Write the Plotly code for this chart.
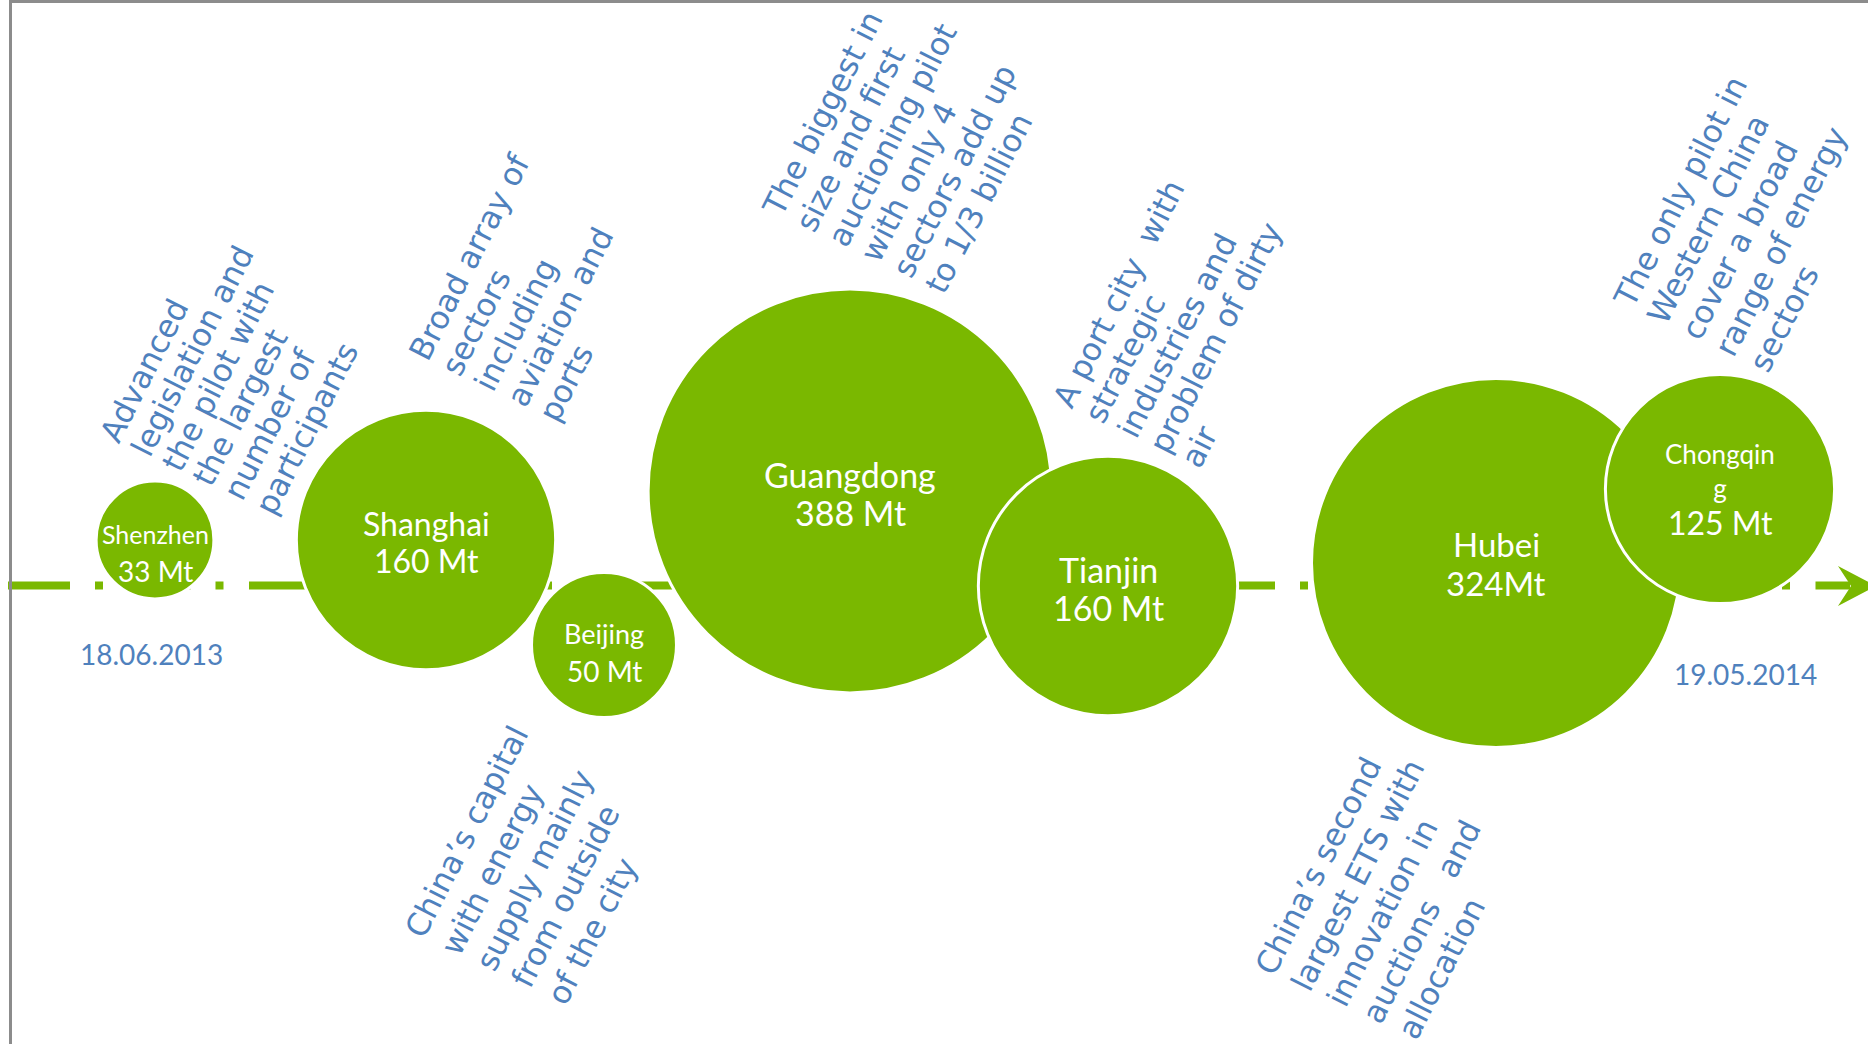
import math
import plotly.graph_objects as go

# ---- data -------------------------------------------------------------
# Chinese pilot emissions trading schemes, in order of launch
pilots = ["Shenzhen", "Shanghai", "Beijing", "Guangdong", "Tianjin", "Hubei", "Chongqing"]
cap_mt = [33, 160, 50, 388, 160, 324, 125]            # annual cap, Mt CO2
name_labels = ["Shenzhen", "Shanghai", "Beijing", "Guangdong", "Tianjin", "Hubei", "Chongqin<br>g"]
unit_gap = [" ", " ", " ", " ", " ", "", " "]
timeline_dates = ["18.06.2013", "19.05.2014"]

note_shenzhen = ["Advanced", "legislation and", "the pilot with", "the largest",
                 "number of", "participants"]
note_shanghai = ["Broad array of", "sectors", "including", "aviation and", "ports"]
note_beijing = ["China\u2019s capital", "with energy", "supply mainly", "from outside",
                "of the city"]
note_guangdong = ["The biggest in", "size and first", "auctioning pilot", "with only 4",
                  "sectors add up", "to 1/3 billion"]
note_tianjin = ["A port city  with", "strategic", "industries and", "problem of dirty", "air"]
note_hubei = ["China\u2019s second", "largest ETS with", "innovation in", "auctions   and",
              "allocation"]
note_chongqing = ["The only pilot in", "Western China", "cover a broad", "range of energy",
                  "sectors"]

# ---- layout / styling -------------------------------------------------
W, H = 1868, 1044
GREEN = "#7ab800"
BLUE = "#4f81bd"
GREY = "#8c8c8c"
AXIS_Y = 585.5

bubble_x = [155, 426, 604, 850, 1108, 1496, 1720]
bubble_y = [540, 540, 645, 491, 586, 563, 489]
name_y = [534, 523, 633, 474, 569, 544, 471]
value_y = [571, 560, 671, 512, 607, 583, 522]
name_size = [25, 32, 27, 34, 34, 33, 26]
value_size = [28, 32, 28, 34, 34, 33, 32]
date_pos = [(151, 654), (1745, 674)]
BUBBLE_SCALE = 20.5          # px of diameter per sqrt(Mt)

# each note: lines, baseline start of first line, shift per line
note_layout = [
    (note_shenzhen, (102, 438), (31.0, 14.5)),
    (note_shanghai, (411, 356), (32.5, 15.5)),
    (note_guangdong, (765, 212), (32.4, 15.4)),
    (note_tianjin, (1055, 404), (32.0, 15.0)),
    (note_chongqing, (1616, 304), (33.7, 16.0)),
    (note_beijing, (407, 934), (35.5, 16.5)),
    (note_hubei, (1257, 971), (35.8, 16.0)),
]
NOTE_FONT = 31.5
NOTE_ANGLE = 63
NOTE_NUDGE = (16, 8)

fig = go.Figure()

# dash-dot timeline running behind the bubbles
fig.add_trace(go.Scatter(
    x=[8, 1850], y=[AXIS_Y, AXIS_Y], mode="lines",
    line=dict(color=GREEN, width=8, dash="62px,25px,8px,25.5px"),
    hoverinfo="skip", showlegend=False,
))

# bubbles: area proportional to the cap
fig.add_trace(go.Scatter(
    x=bubble_x, y=bubble_y, mode="markers",
    marker=dict(size=cap_mt, sizemode="area", sizeref=2 / BUBBLE_SCALE ** 2,
                color=GREEN, opacity=1, line=dict(color="white", width=3)),
    text=pilots, hoverinfo="skip", showlegend=False,
))

annotations = []
for i, (label, v) in enumerate(zip(name_labels, cap_mt)):
    annotations.append(dict(
        x=bubble_x[i], y=name_y[i], text=label, showarrow=False,
        xanchor="center", yanchor="middle",
        font=dict(family="Lato", size=name_size[i], color="white"),
    ))
    annotations.append(dict(
        x=bubble_x[i], y=value_y[i], text=f"{v}{unit_gap[i]}Mt", showarrow=False,
        xanchor="center", yanchor="middle",
        font=dict(family="Lato", size=value_size[i], color="white"),
    ))

for d, (dx_, dy_) in zip(timeline_dates, date_pos):
    annotations.append(dict(
        x=dx_, y=dy_, text=d, showarrow=False, xanchor="center", yanchor="middle",
        font=dict(family="Lato", size=28, color=BLUE),
    ))

# rotated notes, one annotation per line so the lines stay left aligned;
# placed in paper coordinates so lines running off the bottom edge still show
a = math.radians(NOTE_ANGLE)
box_h = 1.164 * NOTE_FONT + 4
desc = 0.236 * NOTE_FONT + 2
for lines, (x0, y0), (sx, sy) in note_layout:
    for k, line in enumerate(lines):
        px = x0 + k * sx + NOTE_NUDGE[0]
        py = y0 + k * sy + NOTE_NUDGE[1]
        ax = px - (box_h - desc) * math.sin(a)
        ay = py + desc * math.cos(a)
        annotations.append(dict(
            x=ax / W, y=1 - ay / H, xref="paper", yref="paper",
            text=line, showarrow=False, textangle=-NOTE_ANGLE,
            xanchor="left", yanchor="bottom",
            font=dict(family="DejaVu Sans", size=NOTE_FONT, color=BLUE),
        ))

shapes = [
    # arrow head closing the timeline
    dict(type="path", xref="x", yref="y",
         path="M 1838 566 L 1876 586 L 1838 606 L 1851 586 Z",
         fillcolor=GREEN, line=dict(width=0), layer="above"),
    # frame lines
    dict(type="rect", xref="x", yref="y", x0=9, x1=W, y0=0, y1=3,
         fillcolor=GREY, line=dict(width=0), layer="above"),
    dict(type="rect", xref="x", yref="y", x0=9, x1=12, y0=0, y1=H,
         fillcolor=GREY, line=dict(width=0), layer="above"),
]

fig.update_layout(
    width=W, height=H,
    margin=dict(l=0, r=0, t=0, b=0),
    paper_bgcolor="white", plot_bgcolor="white",
    xaxis=dict(range=[0, W], visible=False, fixedrange=True),
    yaxis=dict(range=[H, 0], visible=False, fixedrange=True),
    showlegend=False,
    annotations=annotations,
    shapes=shapes,
)

fig.write_html("out.html", config={"displayModeBar": False})
